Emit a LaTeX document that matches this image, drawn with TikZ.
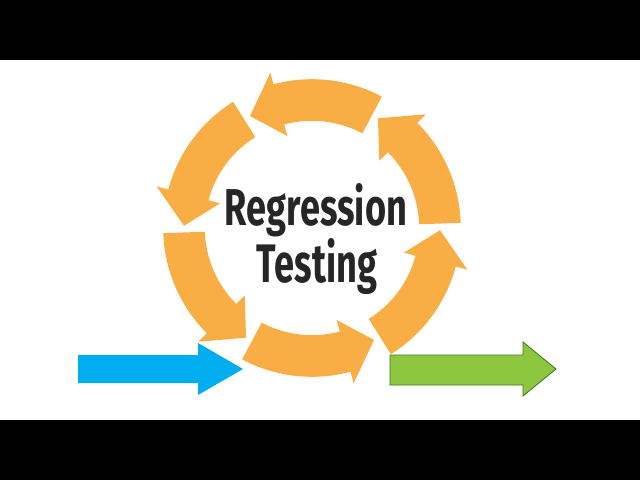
\documentclass[tikz,border=0pt]{standalone}
\usepackage{fontspec}
\setmainfont{Fira Sans}
\begin{document}
\begin{tikzpicture}
\definecolor{org}{HTML}{F9AE45}
\definecolor{blu}{HTML}{00AEEF}
\definecolor{grn}{HTML}{8DC63F}
\definecolor{grnd}{HTML}{3F7A1E}
\tikzset{seg/.style={fill=org,draw=none}, txt/.style={anchor=base,inner sep=0pt,text=black!85}}
\fill[black] (0,0) rectangle (16,12);
\fill[white] (0,1.5) rectangle (16,10.5);
\useasboundingbox (0,0) rectangle (16,12);
% side arrows
\fill[blu] (1.95,2.425) -- (4.95,2.425) -- (4.95,2.125) -- (6.075,2.775) -- (4.95,3.425) -- (4.95,3.125) -- (1.95,3.125) -- cycle;
\fill[grn,draw=grnd,line width=0.6pt] (9.75,2.375) -- (13.075,2.375) -- (13.075,2.1) -- (13.9,2.775) -- (13.075,3.45) -- (13.075,3.125) -- (9.75,3.125) -- cycle;
% cycle arrows
\foreach \a in {30,90,150,210,270,330}{
  \pgfmathsetmacro{\s}{\a-28}
  \pgfmathsetmacro{\h}{\a+15}
  \pgfmathsetmacro{\t}{\a+29}
  \fill[seg,shift={(7.8,6.3)}] (\s:3.72) arc[start angle=\s,end angle=\h,radius=3.72] -- (\h:4.02) -- (\t:3.2) -- (\h:2.38) -- (\h:2.68) arc[start angle=\h,end angle=\s,radius=2.68] -- cycle;
}
\node[txt] (r) at (7.9,6.375) {\bfseries\resizebox{4.55cm}{1.05cm}{Regression}};
\node[txt] (t) at (7.925,4.95) {\bfseries\resizebox{3.0cm}{1.1cm}{Testing}};
\end{tikzpicture}
\end{document}
